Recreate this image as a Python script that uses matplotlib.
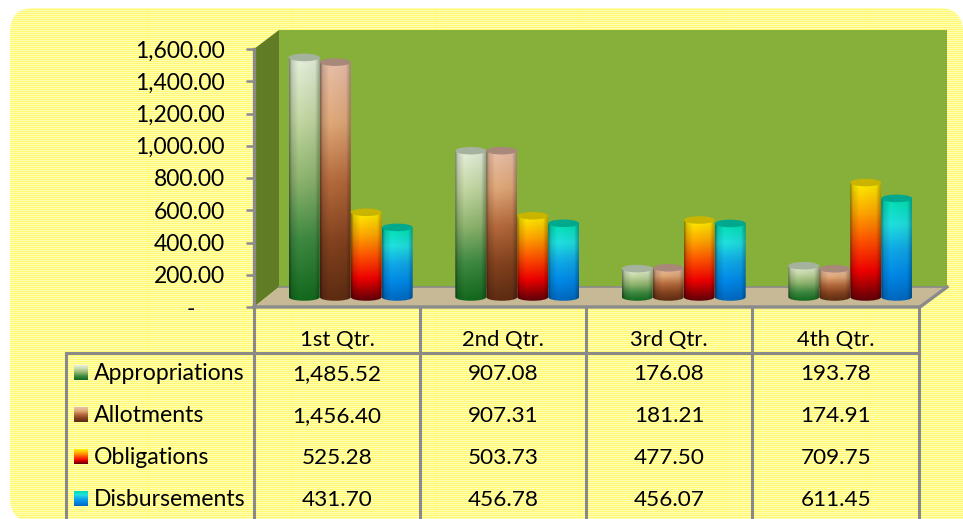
import numpy as np
import matplotlib
matplotlib.use("Agg")
import matplotlib.pyplot as plt
from matplotlib.colors import LinearSegmentedColormap
from matplotlib.patches import Ellipse, FancyBboxPatch, PathPatch, Polygon, Rectangle
from matplotlib.path import Path

# Data
quarters = ["1st Qtr.", "2nd Qtr.", "3rd Qtr.", "4th Qtr."]
appropriations = [1485.52, 907.08, 176.08, 193.78]
allotments = [1456.40, 907.31, 181.21, 174.91]
obligations = [525.28, 503.73, 477.50, 709.75]
disbursements = [431.70, 456.78, 456.07, 611.45]
series_names = ["Appropriations", "Allotments", "Obligations", "Disbursements"]
y_ticks = [0, 200, 400, 600, 800, 1000, 1200, 1400, 1600]

W, H = 963, 519
GRAY = "#8A8A8A"
plt.rcParams["font.family"] = ["Lato", "DejaVu Sans"]

# top -> bottom colour ramps and cap colours
ramps = [
    ["#E6F0DC", "#C4D8A4", "#8FB56F", "#3F8A42", "#136A1E"],
    ["#E8BFA8", "#E0A878", "#B56A3C", "#85431F", "#5E2C12"],
    ["#FFF000", "#FFA800", "#FF5000", "#F00000", "#600008"],
    ["#00E0B0", "#20E0E0", "#10A8E8", "#0088E8", "#0068C0"],
]
caps = ["#A5B39E", "#A88878", "#C9B400", "#00A88E"]
cmaps = [LinearSegmentedColormap.from_list(f"r{i}", r) for i, r in enumerate(ramps)]


def axes_px(left, top, right, bottom):
    return [left / W, 1 - bottom / H, (right - left) / W, (bottom - top) / H]


fig = plt.figure(figsize=(W / 100, H / 100), dpi=100, facecolor="white")

# Background layer in pixel coordinates
bg = fig.add_axes([0, 0, 1, 1])
bg.set_xlim(0, W)
bg.set_ylim(H, 0)
bg.axis("off")

yy, xx = np.mgrid[0:H, 0:W]
lattice = ((xx + yy) % 4 < 2) ^ ((xx - yy) % 4 < 2)
tex = np.ones((H, W, 3))
tex[..., 1] = np.where(lattice, 0.97, 1.0)
tex[..., 2] = np.where(lattice, 0.46, 0.70)
for sx in [148, 292, 435, 578, 722, 866]:
    tex[:, sx, 2] *= 0.85
panel = FancyBboxPatch((10, 8), 953, 514, boxstyle="round,pad=0,rounding_size=24",
                       fc="none", ec="none", transform=bg.transData)
corner = Rectangle((900, 400), 63, 119, fc="none", ec="none", transform=bg.transData)
for clip_patch in [panel, corner]:
    bg.add_patch(clip_patch)
    im = bg.imshow(tex, extent=(0, W, H, 0), aspect="auto", interpolation="nearest", zorder=1)
    im.set_clip_path(clip_patch)
bg.set_xlim(0, W)
bg.set_ylim(H, 0)

# 3D box
bg.add_patch(Polygon([(279, 30), (947, 30), (947, 287), (279, 287)], fc="#87B03A", ec="none", zorder=2))
bg.add_patch(Polygon([(254, 49), (279, 30), (279, 287), (254, 307)], fc="#607C24", ec="none", zorder=2))
bg.add_patch(Polygon([(254, 307), (279, 287), (947, 287), (920, 307)], fc="#C8B996", ec="none", zorder=2))
bg.plot([279, 947], [287, 287], color=GRAY, lw=1.2, zorder=3)
bg.plot([254, 920, 947], [307, 307, 287], color=GRAY, lw=2.4, zorder=3)

# Data table
for x in [254, 420, 586, 752, 919]:
    bg.plot([x, x], [307, H], color=GRAY, lw=2.2, zorder=3)
bg.plot([66, 66], [353, H], color=GRAY, lw=2.2, zorder=3)
bg.plot([66, 919], [353, 353], color=GRAY, lw=2.2, zorder=3)

rows = [appropriations, allotments, obligations, disbursements]
row_y = [372, 414, 456, 498]
col_x = [337, 503, 669, 836]
for name, vals, y, cmap in zip(series_names, rows, row_y, cmaps):
    bg.imshow(np.linspace(0, 1, 30)[:, None], cmap=cmap, extent=(74, 88, y + 8, y - 7),
              aspect="auto", zorder=3)
    bg.text(94, y + 1, name, fontsize=16.6, ha="left", va="center", color="black", zorder=4)
    for x, v in zip(col_x, vals):
        bg.text(x, y + 2, f"{v:,.2f}", fontsize=16.2, ha="center", va="center", color="black", zorder=4)
for x, q in zip(col_x, quarters):
    bg.text(x, 340, q, fontsize=15.8, ha="center", va="center", color="black", zorder=4)
bg.set_xlim(0, W)
bg.set_ylim(H, 0)

# Value axis
yax = fig.add_axes(axes_px(254, 49, 920, 307))
yax.patch.set_alpha(0)
yax.set_ylim(0, 1600)
yax.set_xticks([])
yax.set_yticks(y_ticks)
yax.set_yticklabels([f"{t:,.2f}" if t else "-     " for t in y_ticks], fontsize=16.5)
yax.tick_params(axis="y", length=6, width=1.8, color=GRAY, pad=15)
for s in ["top", "right", "bottom"]:
    yax.spines[s].set_visible(False)
yax.spines["left"].set_color(GRAY)
yax.spines["left"].set_linewidth(2.4)

# Cylinders, same value scale, shifted back into the 3D box
base_y = 297
px_per_unit = 258 / 1600
y_low = -60
ax = fig.add_axes(axes_px(267.5, 39, 933.5, base_y - y_low * px_per_unit))
ax.axis("off")
ax.patch.set_alpha(0)

bar_w = 0.186
cap_h = 47
shade = np.interp(np.linspace(0, 1, 40), [0, 0.08, 0.3, 0.85, 1], [0.55, 0.86, 1, 0.95, 0.7])
for i, (vals, cmap, cap) in enumerate(zip(rows, cmaps, caps)):
    for j, v in enumerate(vals):
        x0 = j + 0.5 + (i - 2) * bar_w
        x1 = x0 + bar_w
        xc = (x0 + x1) / 2
        # body with a rounded bottom edge
        body = Path(
            [(x0, v), (x0, 0), (x0, -cap_h * 0.66), (x1, -cap_h * 0.66), (x1, 0), (x1, v), (x0, v)],
            [Path.MOVETO, Path.LINETO, Path.CURVE4, Path.CURVE4, Path.CURVE4, Path.LINETO, Path.CLOSEPOLY],
        )
        clip = PathPatch(body, fc="none", ec="none", transform=ax.transData)
        ax.add_patch(clip)
        rgba = cmap(np.linspace(0, 1, 120))[:, None, :3] * shade[None, :, None]
        img = ax.imshow(rgba, extent=(x0, x1, -cap_h / 2, v), aspect="auto", zorder=5 + i * 0.1,
                        interpolation="bilinear")
        img.set_clip_path(clip)
        ax.add_patch(Ellipse((xc, v), bar_w, cap_h, fc=cap, ec="none", zorder=5.05 + i * 0.1))
ax.set_xlim(0, 4)
ax.set_ylim(y_low, 1600)

fig.savefig("out.png", dpi=100)
